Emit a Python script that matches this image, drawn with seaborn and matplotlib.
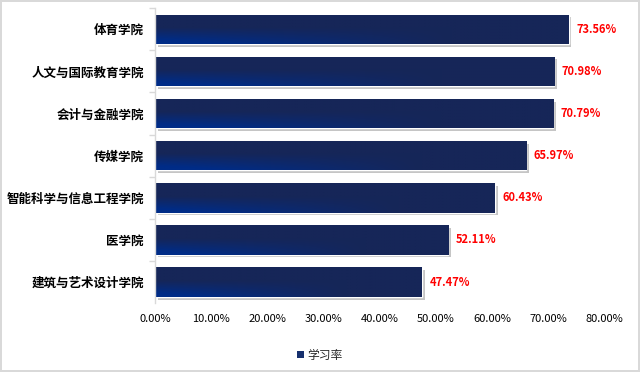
import matplotlib

matplotlib.use("Agg")

import matplotlib.patheffects as pe
import matplotlib.pyplot as plt
import numpy as np
import pandas as pd
import seaborn as sns
from matplotlib.patches import Patch

# Data
colleges = [
    "体育学院",
    "人文与国际教育学院",
    "会计与金融学院",
    "传媒学院",
    "智能科学与信息工程学院",
    "医学院",
    "建筑与艺术设计学院",
]
rates = [73.56, 70.98, 70.79, 65.97, 60.43, 52.11, 47.47]
series_name = "学习率"
x_ticks = [0, 10, 20, 30, 40, 50, 60, 70, 80]

BAR_DARK = np.array([22, 38, 88]) / 255
BAR_BRIGHT = np.array([0, 44, 135]) / 255
LABEL_RED = "#ff0000"
AXIS_GREY = "#d9d9d9"

df = pd.DataFrame({"college": colleges, "rate": rates})

sns.set_theme(style="white")
plt.rcParams["font.family"] = ["Noto Sans CJK SC", "DejaVu Sans"]

fig = plt.figure(figsize=(6.4, 3.72), dpi=100)
fig.patch.set_edgecolor(AXIS_GREY)
fig.patch.set_linewidth(1.5)
ax = fig.add_axes([0.242, 0.185, 0.703, 0.793])

sns.barplot(data=df, x="rate", y="college", color="#16265a", width=0.7,
            saturation=1, ax=ax)

# gradient fill: bright blue lower-left fading to dark navy
ny, nx = 40, 200
ty = np.linspace(0, 1, ny)[:, None]  # 0 = top of image
tx = np.linspace(0, 1, nx)[None, :]
w = np.clip((ty - 0.45) / 0.55, 0, 1) * np.clip(1 - tx * 1.4, 0, 1)
w = np.clip(w * 1.3, 0, 1)
grad = BAR_DARK[None, None, :] * (1 - w[..., None]) + BAR_BRIGHT[None, None, :] * w[..., None]

for bar in ax.patches:
    bar.set_path_effects([
        pe.SimplePatchShadow(offset=(2, -2), shadow_rgbFace="#8c8c8c", alpha=0.5),
        pe.Normal(),
    ])
    x0, y0 = bar.get_x(), bar.get_y()
    wdt, hgt = bar.get_width(), bar.get_height()
    im = ax.imshow(grad, extent=[x0, x0 + wdt, y0 + hgt, y0], aspect="auto",
                   zorder=bar.get_zorder() + 0.1, interpolation="bilinear")
    im.set_clip_path(bar)
    ax.text(x0 + wdt + 1.4, y0 + hgt / 2, f"{wdt:.2f}%", color=LABEL_RED,
            fontsize=8, fontweight="bold", va="center", ha="left")

ax.set_xlim(0, 80)
ax.set_ylim(len(colleges) - 0.5, -0.5)
ax.set_aspect("auto")
ax.set_xticks(x_ticks)
ax.set_xticklabels([f"{t:.2f}%" for t in x_ticks], fontsize=8, color="#000000")
ax.set_yticks(np.arange(len(colleges)) - 0.5, minor=False)
ax.set_yticklabels([])
ax.set_yticks(np.arange(len(colleges)), minor=True)
ax.set_yticklabels(colleges, minor=True, fontsize=9, fontweight="bold", color="#000000")
ax.tick_params(axis="y", which="major", length=4, color=AXIS_GREY, width=1, left=True)
ax.tick_params(axis="y", which="minor", length=0, pad=8)
ax.tick_params(axis="x", length=0, pad=8)
ax.set_xlabel("")
ax.set_ylabel("")
for side in ["top", "right", "bottom"]:
    ax.spines[side].set_visible(False)
ax.spines["left"].set_color(AXIS_GREY)
ax.spines["left"].set_linewidth(1)

handle = Patch(facecolor="#16306e", edgecolor="none")
fig.legend([handle], [series_name], loc="center", bbox_to_anchor=(0.5, 0.045),
           frameon=False, fontsize=8.5, handlelength=0.6, handleheight=0.6,
           handletextpad=0.3)

fig.savefig("out.png", dpi=100, edgecolor=fig.get_edgecolor())
